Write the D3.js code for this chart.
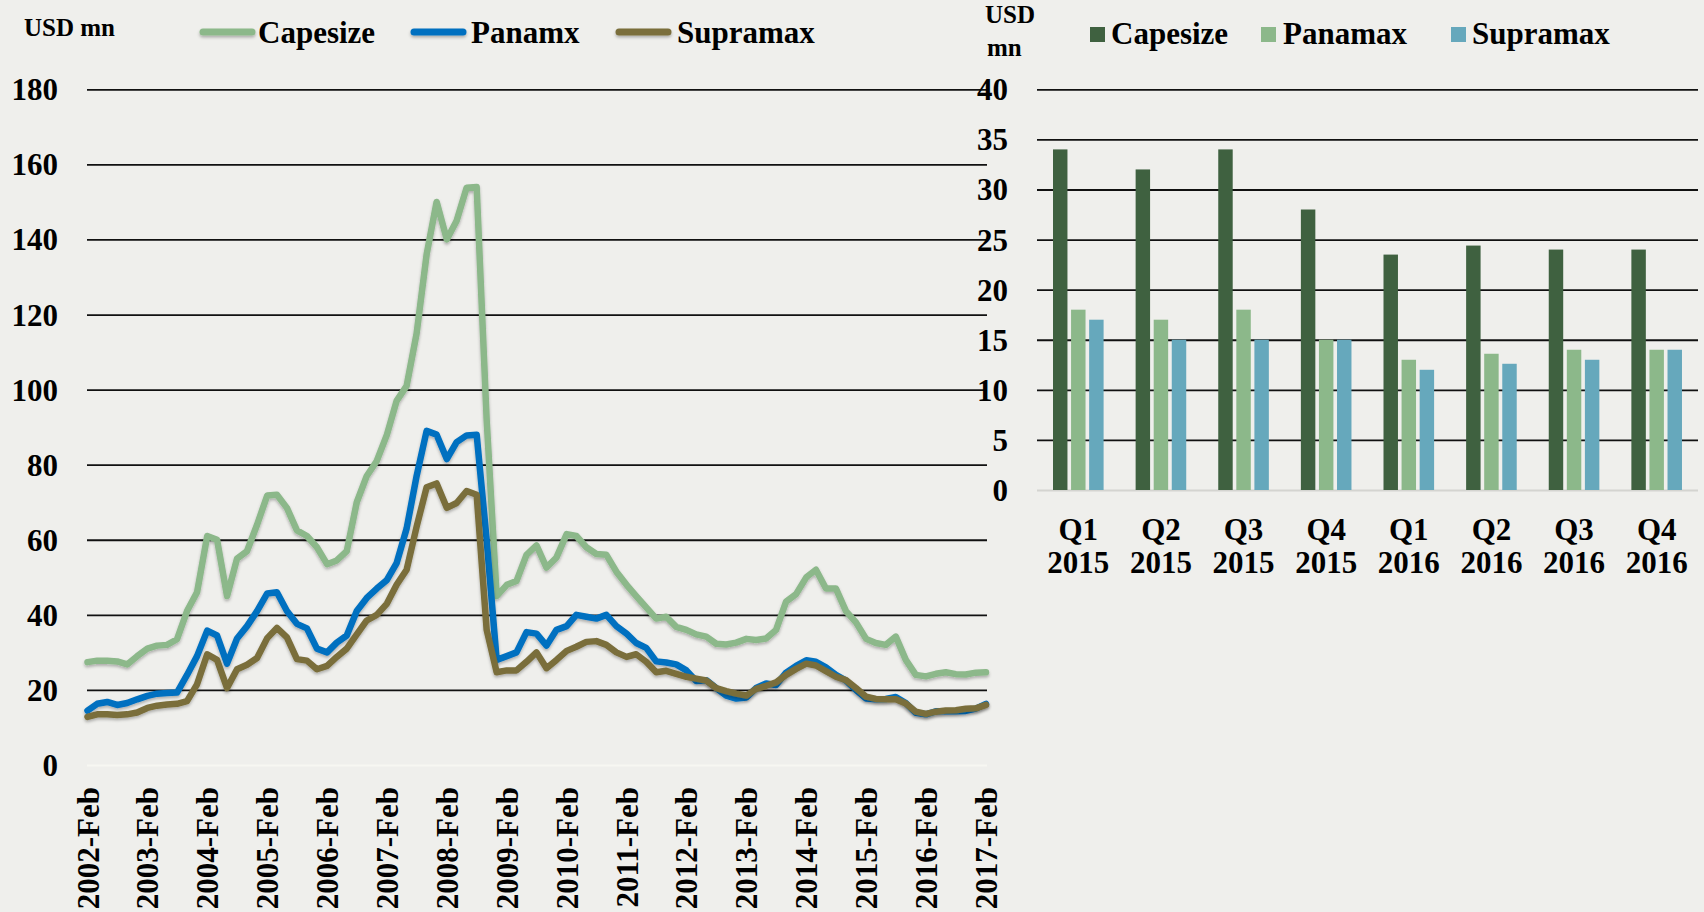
<!DOCTYPE html>
<html>
<head>
<meta charset="utf-8">
<script src="https://cdn.jsdelivr.net/npm/d3@7"></script>
<style>
  html, body { margin: 0; padding: 0; background: #efefec; }
  svg { display: block; }
  text { font-family: "Liberation Serif", "Times New Roman", serif; font-weight: bold; fill: #000; }
</style>
</head>
<body>
<svg id="chart" width="1704" height="912"></svg>
<script>
// ---------------- DATA ----------------
// Left chart: bi-monthly readings, Feb 2002 .. Feb 2017 (USD mn)
const seriesNames = ["Capesize", "Panamx", "Supramax"];
const capesize = [27.4,27.8,27.8,27.6,26.8,29,31,31.8,32,33.5,
  41,46,61,60,45,55,57,64,71.8,72,
  68.5,62.5,61,58,53.5,54.5,57,70,77,81,
  88,97,101,115,136,150,140,145,153.8,154,
  92,45,48,49,56,58.5,52.6,55.3,61.5,61,
  58,56.2,56,51.5,48,45,42,39,39.5,36.8,
  36,34.8,34.2,32.3,32.1,32.6,33.6,33.3,33.7,36,
  43.5,45.5,50,52,47,47,41,38,33.6,32.5,
  32,34.2,28,24,23.6,24.3,24.7,24.2,24.1,24.6,
  24.7];
const panamax = [14.5,16.3,16.8,16,16.5,17.5,18.4,19,19.2,19.3,
  24,29,35.8,34.5,27,33.7,37,41,45.7,46,
  41,37.6,36.4,31,30,32.6,34.5,41,44.5,47,
  49.3,53.8,63,77,89,88,81.5,86,87.8,88,
  60,28,29,30,35.4,35,31.8,36,37,40,
  39.5,39,40,37,35,32.5,31.2,27.6,27.3,26.8,
  25.2,22.4,22.6,20.5,18.5,17.7,18,20.5,21.7,21.3,
  24.6,26.4,27.9,27.5,26,24,22.5,20,17.7,17.5,
  17.6,18.1,16.5,13.9,13.5,14.3,14.3,14.3,14.4,15,
  16.3];
const supramax = [12.8,13.5,13.5,13.3,13.5,14,15.2,15.8,16.1,16.3,
  17,21.5,29.5,28,20.5,25.5,26.7,28.5,33.8,36.5,
  34,28.2,27.8,25.5,26.4,28.8,31,34.8,38.5,40,
  43,48,52,63.5,74,75,68.5,69.8,73,72,
  36,24.7,25.2,25.2,27.5,30,25.8,28,30.4,31.5,
  32.8,33,32,30,28.8,29.5,27.5,24.7,25.1,24.3,
  23.5,23,22.5,20.5,19.7,19,18.5,20.3,21.1,22,
  24,25.6,27,26.5,25,23.5,22.6,20.5,18.2,17.6,
  17.5,17.5,16.4,14.2,13.6,14.2,14.5,14.6,15,15.1,
  16];
const startMonth = new Date(2002, 1, 1);
const monthStep = 2;
const xTickLabels = ["2002-Feb","2003-Feb","2004-Feb","2005-Feb","2006-Feb","2007-Feb","2008-Feb","2009-Feb",
  "2010-Feb","2011-Feb","2012-Feb","2013-Feb","2014-Feb","2015-Feb","2016-Feb","2017-Feb"];
const yTicksLeft = [0,20,40,60,80,100,120,140,160,180];

// Right chart: quarterly bars
const quarters = ["Q1","Q2","Q3","Q4","Q1","Q2","Q3","Q4"];
const quarterYears = ["2015","2015","2015","2015","2016","2016","2016","2016"];
const barSeries = ["Capesize","Panamax","Supramax"];
const barCapesize = [34,32,34,28,23.5,24.4,24,24];
const barPanamax = [18,17,18,15,13,13.6,14,14];
const barSupramax = [17,15,15,15,12,12.6,13,14];
const yTicksRight = [0,5,10,15,20,25,30,35,40];

// ---------------- STYLE ----------------
const lineColors = {Capesize: "#8cb88a", Panamx: "#0070c0", Supramax: "#7a6e3b"};
const barColors = {Capesize: "#3f6140", Panamax: "#8cb88a", Supramax: "#66a8bc"};

const svg = d3.select("#chart");
svg.append("rect").attr("width", 1704).attr("height", 912).attr("fill", "#efefec");

const defs = svg.append("defs");
const f = defs.append("filter").attr("id", "shadow").attr("filterUnits", "userSpaceOnUse")
  .attr("x", 0).attr("y", 0).attr("width", 1704).attr("height", 912);
f.append("feDropShadow").attr("dx", 0).attr("dy", 2).attr("stdDeviation", 1.6)
  .attr("flood-color", "#000").attr("flood-opacity", 0.28);

// ---------------- LEFT CHART ----------------
const L = {x0: 87.5, x1: 986, y0: 765, y1: 89.3};
const dates = capesize.map((_, i) => d3.timeMonth.offset(startMonth, i * monthStep));
const xL = d3.scaleTime().domain([startMonth, d3.timeMonth.offset(startMonth, 180)]).range([L.x0, L.x1]);
const yL = d3.scaleLinear().domain([0, 180]).range([L.y0, L.y1]);

const gyL = svg.append("g").attr("transform", `translate(87,0)`)
  .call(d3.axisLeft(yL).tickValues(yTicksLeft).tickSize(-900).tickPadding(29).tickFormat(d3.format("d")));
gyL.select(".domain").remove();
gyL.selectAll(".tick line").attr("stroke", d => d === 0 ? "#f7f7f2" : "#111").attr("stroke-width", d => d === 0 ? 2 : 1.8);
gyL.selectAll(".tick text").attr("font-size", 31).attr("dy", null).attr("dominant-baseline", "central")
  .style("font-family", "'Liberation Serif','Times New Roman',serif").style("font-weight", "bold");

const tickDates = xTickLabels.map((_, i) => d3.timeMonth.offset(startMonth, i * 12));
const gxL = svg.append("g").attr("transform", `translate(0,787)`)
  .call(d3.axisBottom(xL).tickValues(tickDates).tickSize(0).tickFormat((d, i) => xTickLabels[i]));
gxL.select(".domain").remove();
gxL.selectAll(".tick text").attr("font-size", 31).attr("x", 0).attr("y", 0).attr("dy", null)
  .attr("dominant-baseline", "central").attr("text-anchor", "end").attr("transform", "rotate(-90)")
  .style("font-family", "'Liberation Serif','Times New Roman',serif").style("font-weight", "bold");

const lineData = {
  Capesize: capesize.map((v, i) => ({d: dates[i], v})),
  Panamx: panamax.map((v, i) => ({d: dates[i], v})),
  Supramax: supramax.map((v, i) => ({d: dates[i], v}))
};
const line = d3.line().x(p => xL(p.d)).y(p => yL(p.v));
seriesNames.forEach(name => {
  svg.append("path").datum(lineData[name]).attr("d", line)
    .attr("fill", "none").attr("stroke", lineColors[name]).attr("stroke-width", 6.5)
    .attr("stroke-linejoin", "round").attr("stroke-linecap", "round").attr("filter", "url(#shadow)");
});

// Left legend
svg.append("text").attr("x", 24).attr("y", 36).attr("font-size", 25).text("USD mn");
const legL = [{name: "Capesize", lx: 203, tx: 258}, {name: "Panamx", lx: 414, tx: 471}, {name: "Supramax", lx: 619, tx: 677}];
legL.forEach(o => {
  svg.append("line").attr("x1", o.lx).attr("x2", o.lx + 49).attr("y1", 32).attr("y2", 32)
    .attr("stroke", lineColors[o.name]).attr("stroke-width", 7).attr("stroke-linecap", "round").attr("filter", "url(#shadow)");
  svg.append("text").attr("x", o.tx).attr("y", 43).attr("font-size", 31).text(o.name);
});

// ---------------- RIGHT CHART ----------------
const R = {x0: 1037, x1: 1698, y0: 490, y1: 89.3};
const yR = d3.scaleLinear().domain([0, 40]).range([R.y0, R.y1]);
const x0R = d3.scaleBand().domain(d3.range(quarters.length)).range([R.x0, R.x1]);
const x1R = d3.scaleBand().domain(barSeries).range([16, 66.6]).paddingInner(0.2);

const gyR = svg.append("g").attr("transform", `translate(${R.x0},0)`)
  .call(d3.axisLeft(yR).tickValues(yTicksRight).tickSize(-(R.x1 - R.x0)).tickPadding(29).tickFormat(d3.format("d")));
gyR.select(".domain").remove();
gyR.selectAll(".tick line").attr("stroke", d => d === 0 ? "#d4d4d0" : "#111").attr("stroke-width", d => d === 0 ? 2 : 1.8);
gyR.selectAll(".tick text").attr("font-size", 31).attr("dy", null).attr("dominant-baseline", "central")
  .style("font-family", "'Liberation Serif','Times New Roman',serif").style("font-weight", "bold");

const barVals = {Capesize: barCapesize, Panamax: barPanamax, Supramax: barSupramax};
const groups = svg.append("g").selectAll("g").data(d3.range(quarters.length)).join("g")
  .attr("transform", i => `translate(${x0R(i)},0)`);
groups.selectAll("rect").data(i => barSeries.map(s => ({s, v: barVals[s][i]}))).join("rect")
  .attr("x", d => x1R(d.s)).attr("width", x1R.bandwidth())
  .attr("y", d => yR(d.v)).attr("height", d => yR(0) - yR(d.v))
  .attr("fill", d => barColors[d.s]);

// Category labels
const cx = i => x0R(i) + x0R.bandwidth() / 2;
svg.append("g").selectAll("text.q").data(quarters).join("text")
  .attr("x", (d, i) => cx(i)).attr("y", 540).attr("text-anchor", "middle").attr("font-size", 31).text(d => d);
svg.append("g").selectAll("text.yr").data(quarterYears).join("text")
  .attr("x", (d, i) => cx(i)).attr("y", 573).attr("text-anchor", "middle").attr("font-size", 31).text(d => d);

// Right legend
svg.append("text").attr("x", 985).attr("y", 23).attr("font-size", 25).text("USD");
svg.append("text").attr("x", 987).attr("y", 56).attr("font-size", 25).text("mn");
const legR = [{name: "Capesize", sx: 1090, tx: 1111}, {name: "Panamax", sx: 1261, tx: 1283}, {name: "Supramax", sx: 1451, tx: 1472}];
legR.forEach(o => {
  svg.append("rect").attr("x", o.sx).attr("y", 27).attr("width", 15).attr("height", 15).attr("fill", barColors[o.name]);
  svg.append("text").attr("x", o.tx).attr("y", 44).attr("font-size", 31).text(o.name);
});
</script>
</body>
</html>
